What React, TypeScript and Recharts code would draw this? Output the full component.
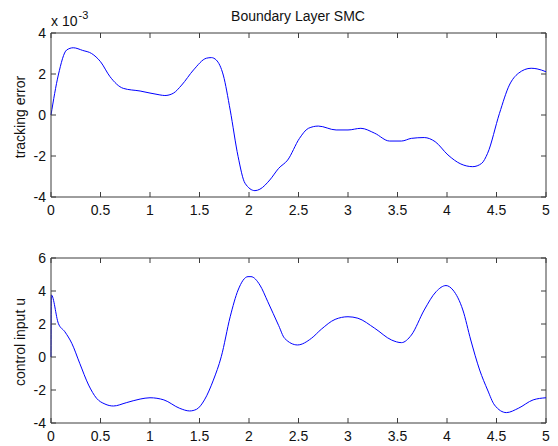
import React from "react";
import { LineChart, Line, XAxis, YAxis, ReferenceLine } from "recharts";

// time samples and values
const timeErr = [0, 0.074, 0.158, 0.225, 0.32, 0.41, 0.5, 0.596, 0.73, 0.9, 1.1, 1.15, 1.235, 1.32, 1.44, 1.57, 1.62, 1.67, 1.74, 1.81, 1.89, 1.96, 2.06, 2.11, 2.21, 2.3, 2.39, 2.51, 2.6, 2.7, 2.88, 3.0, 3.13, 3.27, 3.42, 3.54, 3.64, 3.77, 3.88, 4.01, 4.14, 4.26, 4.35, 4.41, 4.53, 4.63, 4.72, 4.85, 4.91, 5.0];
// tracking error, in units of 1e-3
const trackingErr = [0, 1.95, 3.17, 3.28, 3.15, 3.0, 2.6, 1.87, 1.3, 1.17, 0.98, 0.95, 1.06, 1.46, 2.2, 2.77, 2.8, 2.68, 1.95, 0.24, -2.03, -3.33, -3.69, -3.62, -3.17, -2.6, -2.2, -1.14, -0.65, -0.54, -0.73, -0.73, -0.65, -0.89, -1.27, -1.27, -1.14, -1.1, -1.3, -1.95, -2.39, -2.52, -2.36, -1.87, 0.08, 1.46, 2.03, 2.28, 2.25, 2.11];

const timeU = [0, 0.004, 0.074, 0.14, 0.21, 0.29, 0.38, 0.46, 0.545, 0.63, 0.76, 0.9, 1.0, 1.14, 1.3, 1.4, 1.47, 1.55, 1.64, 1.72, 1.81, 1.89, 1.99, 2.02, 2.11, 2.19, 2.3, 2.36, 2.49, 2.63, 2.73, 2.87, 3.0, 3.1, 3.27, 3.44, 3.54, 3.64, 3.77, 3.89, 3.99, 4.06, 4.16, 4.24, 4.33, 4.41, 4.48, 4.6, 4.72, 4.87, 5.0];
const controlU = [0, 3.76, 2.04, 1.53, 0.83, -0.38, -1.7, -2.5, -2.85, -2.97, -2.77, -2.55, -2.47, -2.6, -3.11, -3.27, -3.17, -2.6, -1.4, 0.02, 2.44, 4.06, 4.87, 4.87, 4.36, 3.35, 1.9, 1.13, 0.73, 1.13, 1.68, 2.28, 2.44, 2.35, 1.74, 1.03, 0.87, 1.33, 2.85, 3.96, 4.33, 4.06, 2.85, 1.03, -0.79, -2.0, -2.91, -3.37, -3.11, -2.6, -2.47];

const xTicks = [0, 0.5, 1, 1.5, 2, 2.5, 3, 3.5, 4, 4.5, 5];
const errTicks = [-4, -2, 0, 2, 4];
const uTicks = [-4, -2, 0, 2, 4, 6];

const errData = timeErr.map((t, i) => ({ t, v: trackingErr[i] }));
const uData = timeU.map((t, i) => ({ t, v: controlU[i] }));

const FONT = "'Liberation Sans', Arial, sans-serif";
const FS = 14;
const AXIS = "#3c3c3c";
const TICK_LEN = 5;
const X_GAP = 8;
const Y_GAP = 5;
const PLOT_W = 495;

// matlab-ish ticks: label outside, short tick marks pointing inwards on both sides
function XTick({ x, y, payload, plotH }: any) {
  const base = y - X_GAP;
  return (
    <g>
      <line x1={x} x2={x} y1={base} y2={base - TICK_LEN} stroke={AXIS} />
      <line x1={x} x2={x} y1={base - plotH} y2={base - plotH + TICK_LEN} stroke={AXIS} />
      <text x={x} y={y} dy="0.71em" textAnchor="middle" fill="#111" fontSize={FS} fontFamily={FONT}>
        {payload.value}
      </text>
    </g>
  );
}

function YTick({ x, y, payload }: any) {
  const base = x + Y_GAP;
  return (
    <g>
      <line x1={base} x2={base + TICK_LEN} y1={y} y2={y} stroke={AXIS} />
      <line x1={base + PLOT_W - TICK_LEN} x2={base + PLOT_W} y1={y} y2={y} stroke={AXIS} />
      <text x={x} y={y} dy="0.355em" textAnchor="end" fill="#111" fontSize={FS} fontFamily={FONT}>
        {payload.value}
      </text>
    </g>
  );
}

function Panel({ data, yTicks, yDomain, top, height, marginTop }: any) {
  const plotH = height - marginTop - 23;
  return (
    <div style={{ position: "absolute", left: 0, top }}>
      <LineChart
        width={558}
        height={height}
        data={data}
        margin={{ top: marginTop, right: 12, bottom: 3, left: 11 }}
      >
        <XAxis
          type="number"
          dataKey="t"
          domain={[0, 5]}
          ticks={xTicks}
          height={20}
          tickSize={0}
          tickMargin={X_GAP}
          tickLine={false}
          axisLine={{ stroke: AXIS }}
          tick={<XTick plotH={plotH} />}
        />
        <YAxis
          type="number"
          dataKey="v"
          domain={yDomain}
          ticks={yTicks}
          width={40}
          tickSize={0}
          tickMargin={Y_GAP}
          tickLine={false}
          axisLine={{ stroke: AXIS }}
          tick={<YTick />}
        />
        <ReferenceLine y={yDomain[1]} stroke={AXIS} strokeWidth={1} />
        <ReferenceLine x={5} stroke={AXIS} strokeWidth={1} />
        <Line
          type="monotone"
          dataKey="v"
          stroke="#0000ff"
          strokeWidth={1}
          dot={false}
          isAnimationActive={false}
        />
      </LineChart>
    </div>
  );
}

const textBase: React.CSSProperties = {
  position: "absolute",
  fontFamily: FONT,
  fontSize: FS,
  color: "#111",
  whiteSpace: "nowrap",
  lineHeight: 1,
};

export default function App() {
  return (
    <div style={{ position: "absolute", left: 0, top: 0, width: 558, height: 446, background: "#fff", overflow: "hidden" }}>
      <Panel data={errData} yTicks={errTicks} yDomain={[-4, 4]} top={0} height={220} marginTop={33} />
      <Panel data={uData} yTicks={uTicks} yDomain={[-4, 6]} top={220} height={226} marginTop={38} />

      <div style={{ ...textBase, left: 298, top: 16, transform: "translate(-50%, -50%)" }}>Boundary Layer SMC</div>
      <div style={{ ...textBase, left: 51, top: 14 }}>
        x 10<span style={{ fontSize: 11, position: "relative", top: -7, marginLeft: 1 }}>-3</span>
      </div>
      <div style={{ ...textBase, left: 20, top: 117, transform: "translate(-50%, -50%) rotate(-90deg)" }}>tracking error</div>
      <div style={{ ...textBase, left: 20, top: 342, transform: "translate(-50%, -50%) rotate(-90deg)" }}>control input u</div>
    </div>
  );
}
